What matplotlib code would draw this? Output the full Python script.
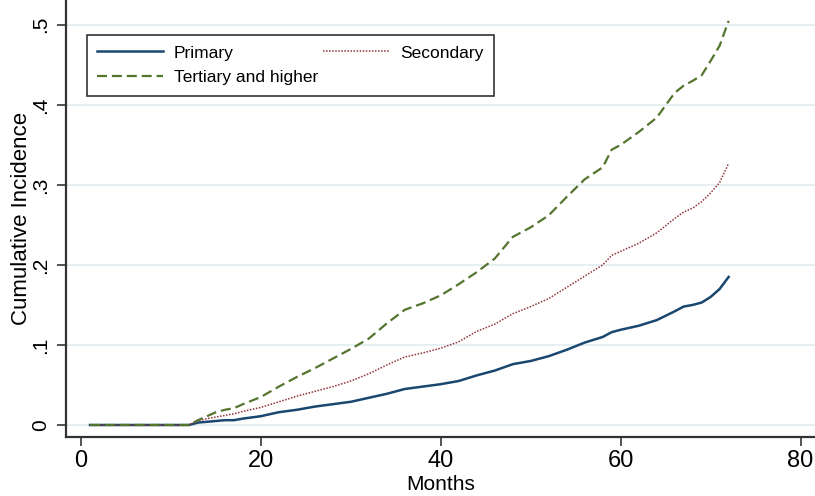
import numpy as np
import matplotlib.pyplot as plt

# months and cumulative incidence by education level
months = [1, 12, 13, 14, 15, 16, 17, 18, 20, 22, 24, 26, 28, 30, 32, 34, 36, 38, 40,
          42, 44, 46, 48, 50, 52, 54, 56, 58, 59, 60, 62, 64, 66, 67, 68, 69, 70, 71, 72]
primary = [0, 0, 0.003, 0.004, 0.005, 0.006, 0.006, 0.008, 0.011, 0.016, 0.019, 0.023,
           0.026, 0.029, 0.034, 0.039, 0.045, 0.048, 0.051, 0.055, 0.062, 0.068, 0.076,
           0.080, 0.086, 0.094, 0.103, 0.110, 0.116, 0.119, 0.124, 0.131, 0.142, 0.148,
           0.150, 0.153, 0.160, 0.170, 0.185]
secondary = [0, 0, 0.005, 0.008, 0.010, 0.012, 0.014, 0.017, 0.022, 0.029, 0.036, 0.042,
             0.048, 0.055, 0.064, 0.075, 0.085, 0.090, 0.096, 0.104, 0.117, 0.126, 0.139,
             0.148, 0.158, 0.172, 0.186, 0.200, 0.212, 0.217, 0.227, 0.240, 0.258, 0.266,
             0.271, 0.279, 0.290, 0.303, 0.327]
tertiary = [0, 0, 0.006, 0.011, 0.016, 0.019, 0.021, 0.026, 0.035, 0.048, 0.060, 0.071,
            0.083, 0.095, 0.108, 0.127, 0.144, 0.152, 0.162, 0.176, 0.191, 0.208, 0.235,
            0.247, 0.262, 0.285, 0.307, 0.322, 0.344, 0.350, 0.366, 0.384, 0.415, 0.424,
            0.430, 0.437, 0.455, 0.474, 0.505]

xticks = [0, 20, 40, 60, 80]
yticks = [0, 0.1, 0.2, 0.3, 0.4, 0.5]
ytick_labels = ['0', '.1', '.2', '.3', '.4', '.5']

plt.rcParams['font.family'] = ['Liberation Sans', 'DejaVu Sans']

fig = plt.figure(figsize=(8.15, 4.96), dpi=100)
ax = fig.add_axes([66 / 815, 59 / 496, 749 / 815, 437 / 496])

# light grid like stata s2color
for y in yticks:
    ax.axhline(y, color='#e4eef0', lw=1.3, zorder=0)

l1, = ax.plot(months, primary, color='#1a476f', lw=1.8, label='Primary')
l2, = ax.plot(months, secondary, color='#90353b', lw=1.1, ls=(0, (1, 1)), label='Secondary')
l3, = ax.plot(months, tertiary, color='#55752f', lw=1.6, ls=(0, (4.5, 2.2)),
              label='Tertiary and higher')

ax.set_xlim(-1.67, 81.6)
ax.set_ylim(-0.015, 0.531)
ax.set_xticks(xticks)
ax.set_xticklabels([str(t) for t in xticks], fontsize=17)
ax.set_yticks(yticks)
ax.set_yticklabels(ytick_labels, fontsize=15, rotation=90, va='center')

for s in ['top', 'right']:
    ax.spines[s].set_visible(False)
for s in ['left', 'bottom']:
    ax.spines[s].set_color('#333333')
    ax.spines[s].set_linewidth(1.6)
ax.tick_params(length=6.5, width=1.2, color='#333333')
ax.tick_params(axis='x', pad=3)
ax.tick_params(axis='y', pad=5)

ax.set_xlabel('Months', fontsize=15, va='center')
ax.xaxis.set_label_coords(0.5007, -0.1076)
ax.set_ylabel('Cumulative Incidence', fontsize=16, va='center')
ax.yaxis.set_label_coords(-0.06, 0.5)

leg = ax.legend([l1, l3, l2], ['Primary', 'Tertiary and higher', 'Secondary'], ncol=2,
                loc='upper left', bbox_to_anchor=(0.028, 0.92, 0.543, 0.0), mode='expand',
                frameon=True, fancybox=False, edgecolor='black',
                prop={'size': 12.5}, handlelength=3.8, handletextpad=0.6,
                borderaxespad=0, borderpad=0.6, columnspacing=0.3, labelspacing=0.55)
leg.get_frame().set_linewidth(1.2)

fig.savefig('out.png', dpi=100)
